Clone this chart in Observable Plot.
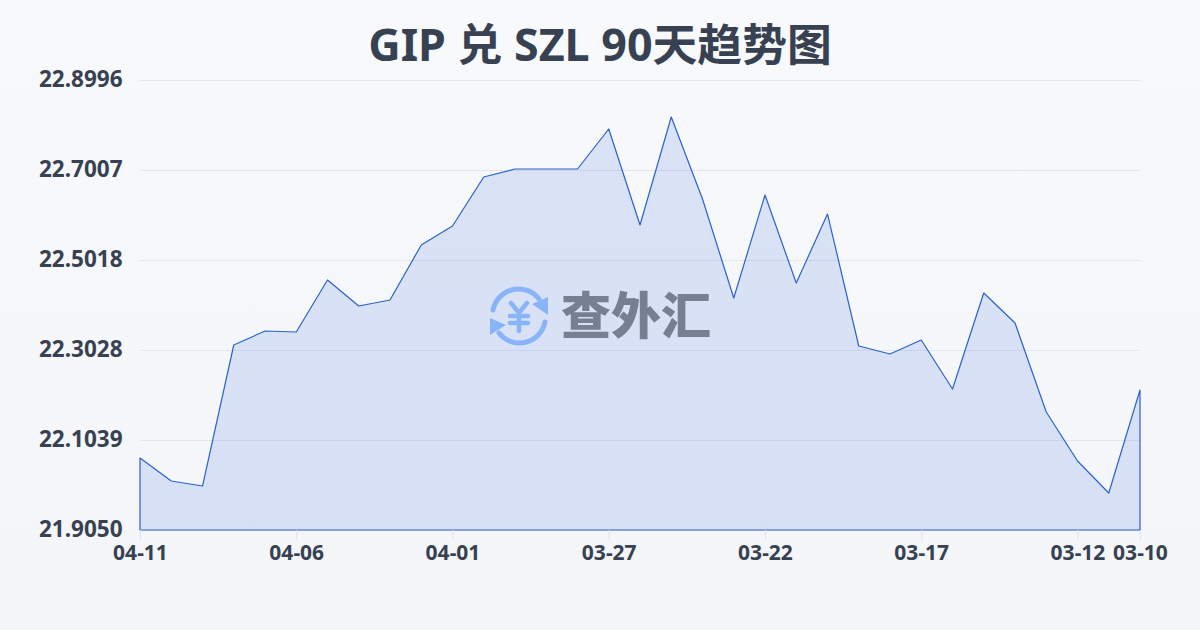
<!DOCTYPE html>
<html lang="zh"><head><meta charset="utf-8">
<script src="https://cdn.jsdelivr.net/npm/d3@7"></script>
<script src="https://cdn.jsdelivr.net/npm/@observablehq/plot@0.6"></script>
<style>
html,body{margin:0;padding:0}
body{width:1200px;height:630px;overflow:hidden;position:relative;background:linear-gradient(180deg,#f8f9fb 0%,#f3f5f8 100%);font-family:"Noto Sans","Noto Sans CJK SC",sans-serif}
h1{margin:0;text-align:center;font:700 44.8px/60px "Noto Sans","Noto Sans CJK SC",sans-serif;color:#374151;height:60px;padding:14px 0 0}
#chart{position:absolute;left:0;top:60px}
#chart svg{background:transparent;display:block}
#logo{position:absolute;left:488px;top:285px;width:64px;height:62px}
#brand{position:absolute;left:561px;top:277px;font:900 50px/70px "Noto Sans CJK SC",sans-serif;color:#778091;white-space:nowrap}
</style></head><body>
<h1>GIP 兑 SZL 90天趋势图</h1>
<div id="chart"></div>
<svg id="logo" viewBox="0 0 64 62">
<g fill="none" stroke="#8ab4f8" stroke-width="5" stroke-linecap="round">
<path d="M5 25A26 26 0 0 1 51 14"/><path d="M57 37A26 26 0 0 1 11 48"/>
<path d="M23 18L31 28L39 18M31 28V46M22 31H40M22 38H40" stroke-width="4.5"/>
</g>
<path d="M44 19L60 12L60 30Z" fill="#8ab4f8"/><path d="M2 33L18 40L2 50Z" fill="#8ab4f8"/>
</svg>
<div id="brand">查外汇</div>
<script>
const dates = ["04-11","04-10","04-09","04-08","04-07","04-06","04-05","04-04","04-03","04-02","04-01","03-31","03-30","03-29","03-28","03-27","03-26","03-25","03-24","03-23","03-22","03-21","03-20","03-19","03-18","03-17","03-16","03-15","03-14","03-13","03-12","03-11","03-10"];
const rates = [22.0641,22.0133,22.0022,22.3139,22.3448,22.3426,22.4576,22.4001,22.4133,22.5349,22.5769,22.6852,22.7029,22.7029,22.7029,22.7913,22.5791,22.8178,22.6366,22.4178,22.6454,22.4509,22.6034,22.3117,22.2940,22.3249,22.2166,22.4288,22.3625,22.1658,22.0575,21.9868,22.2144];
const yTicks = [21.9050,22.1039,22.3028,22.5018,22.7007,22.8996];
const xTicks = ["04-11","04-06","04-01","03-27","03-22","03-17","03-12","03-10"];
const table = dates.map((d,i)=>({d,v:rates[i]}));
const plot = Plot.plot({
  width:1200,height:570,marginLeft:140,marginRight:60,marginTop:20,marginBottom:100,
  style:{background:"transparent",fontFamily:'"Noto Sans","Noto Sans CJK SC",sans-serif'},
  x:{type:"point",domain:dates,padding:0,round:false,label:null,axis:null},
  y:{domain:[21.9050,22.8996],label:null,axis:null},
  marks:[
    Plot.ruleY(yTicks,{stroke:"#e3e6ec",strokeWidth:1}),
    Plot.areaY(table,{x:"d",y1:()=>21.9050,y2:"v",fill:"#3468e0",fillOpacity:0.15,stroke:"#2a62cc",strokeWidth:1.2,curve:"linear"}),
    Plot.axisY({ticks:yTicks,tickFormat:d=>d.toFixed(4),tickSize:0,tickPadding:18,dy:-1,label:null,fontSize:22.5,fontWeight:700,fill:"#374151",marginLeft:140,anchor:"left"}),
    Plot.axisX({ticks:xTicks,tickSize:10,tickPadding:5,stroke:"#dfe2e8",label:null,fontSize:21,fontWeight:700,fill:"#374151",anchor:"bottom"})
  ]
});
document.getElementById("chart").appendChild(plot);
</script>
</body></html>
